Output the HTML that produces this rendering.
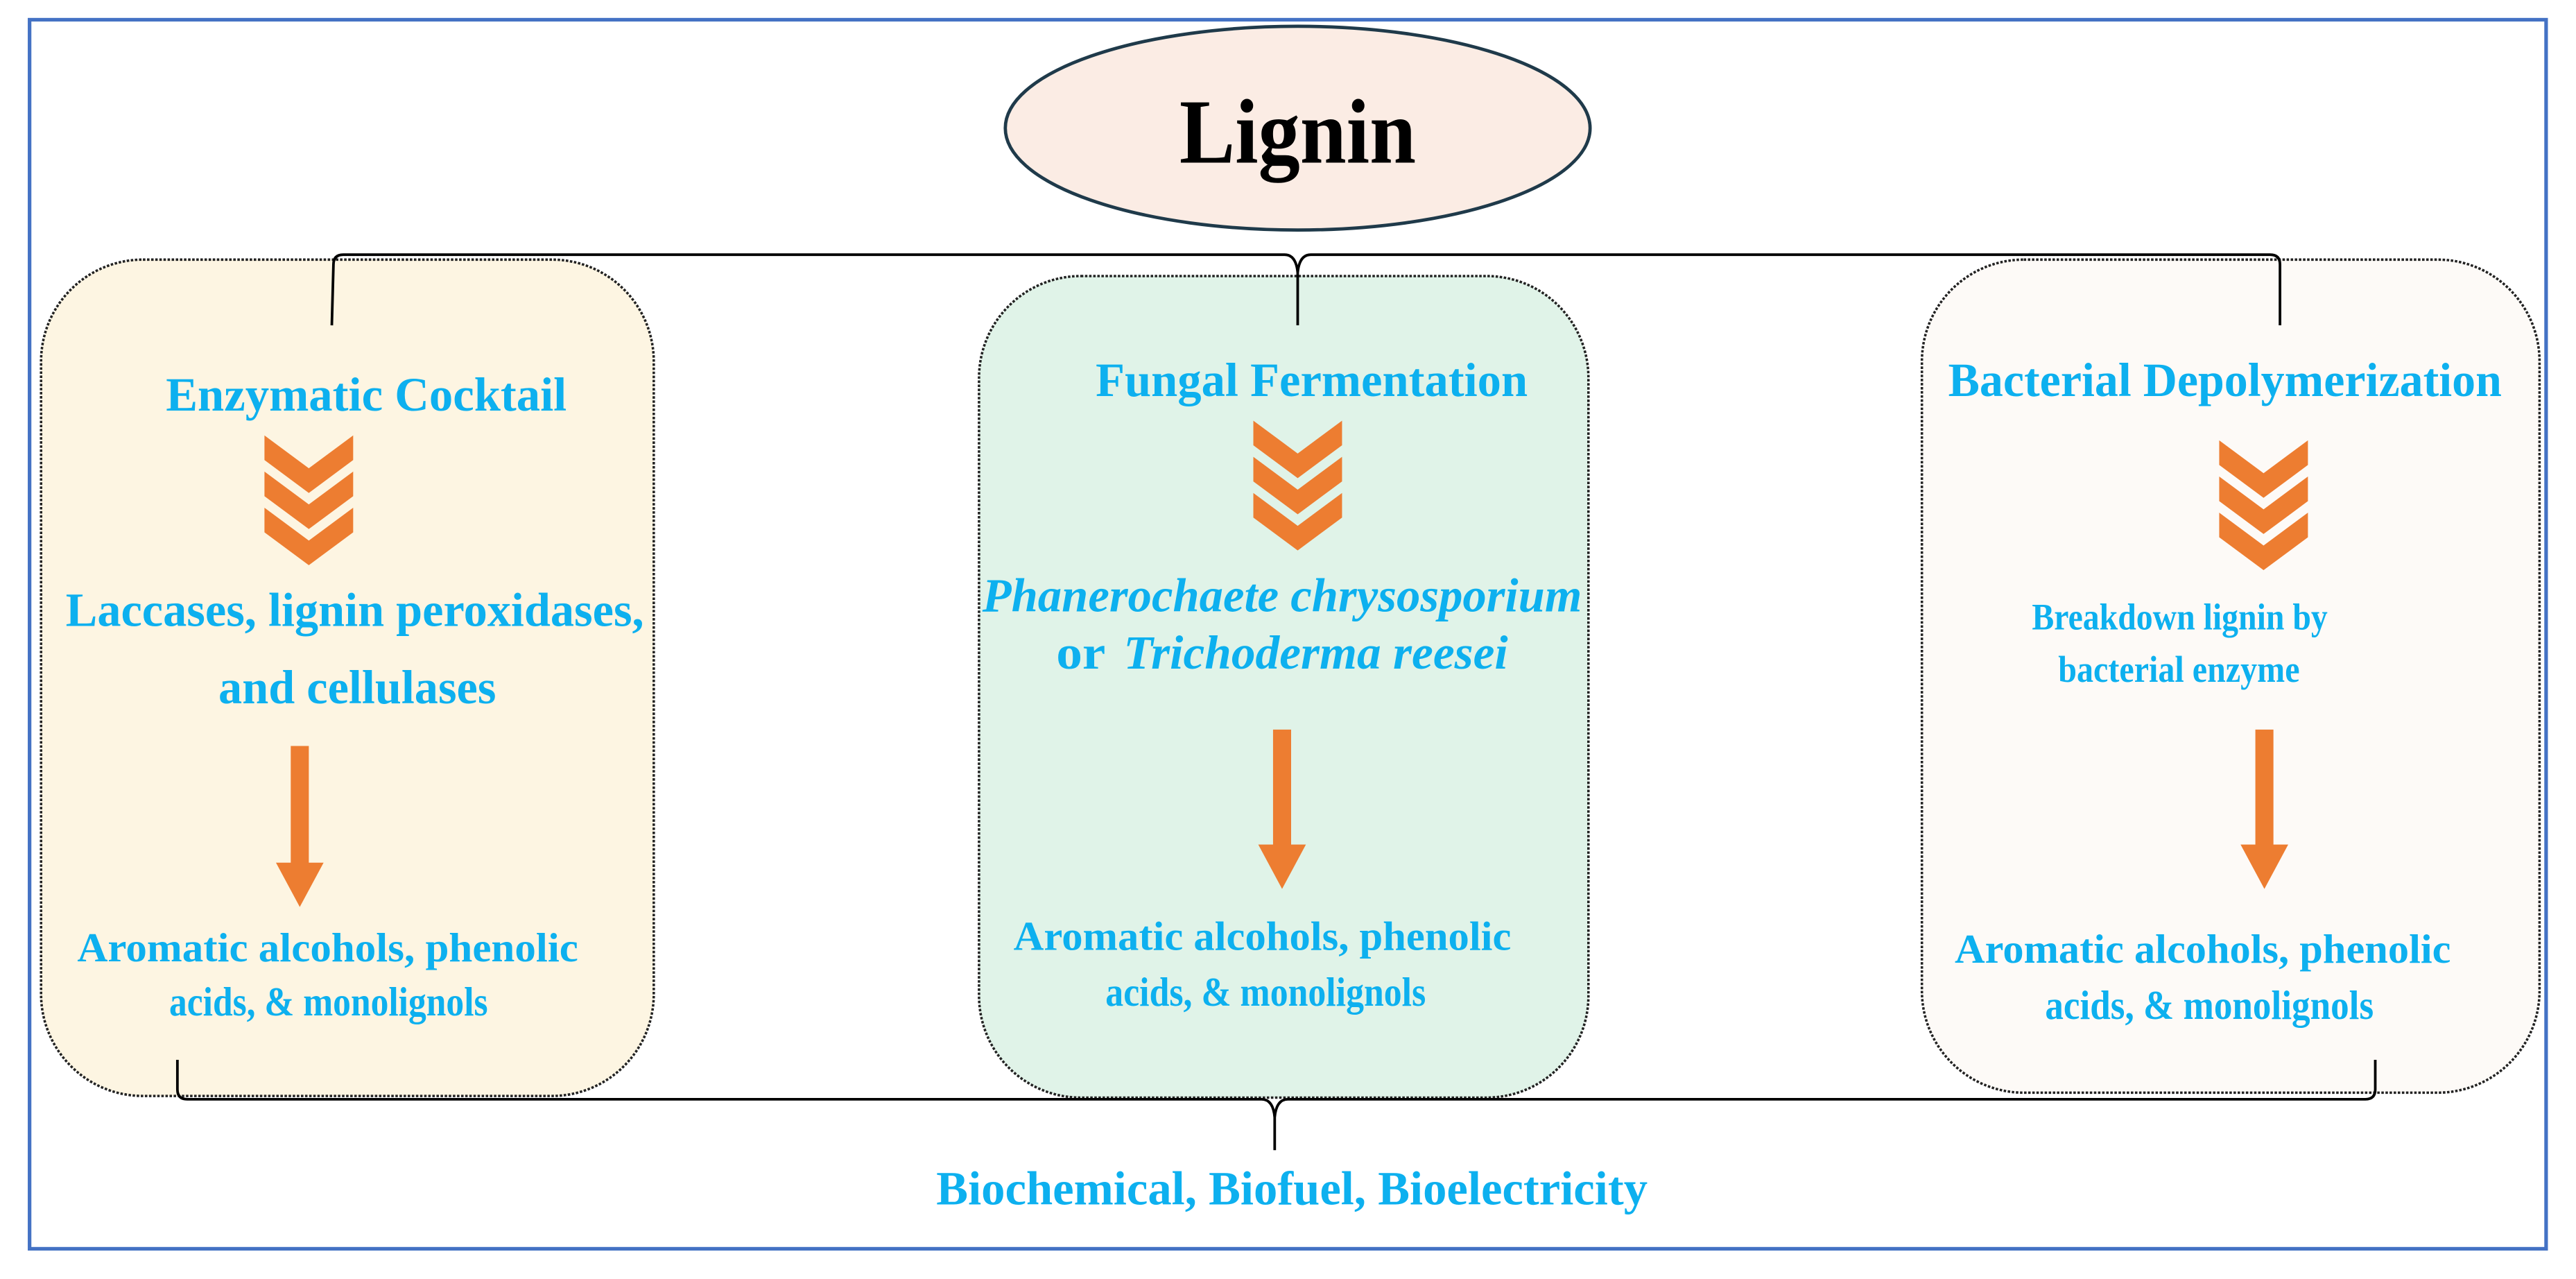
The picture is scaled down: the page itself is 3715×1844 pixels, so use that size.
<!DOCTYPE html>
<html><head><meta charset="utf-8"><style>
html,body{margin:0;padding:0;background:#fff}
svg{display:block}
text{font-family:"Liberation Serif",serif;font-weight:bold}
.c{fill:#0db0ef}
</style></head><body>
<svg width="3715" height="1844" viewBox="0 0 1568.2 778.4" preserveAspectRatio="none" xmlns="http://www.w3.org/2000/svg">
<defs>
<g id="ch" fill="#ed7d31"><polygon points="-27,0 0,20 27,0 27,15 0,35 -27,15"/><polygon points="-27,22 0,42 27,22 27,37 0,57 -27,37"/><polygon points="-27,44 0,64 27,44 27,59 0,79 -27,59"/></g>
</defs>
<rect x="0" y="0" width="1568.2" height="778.4" fill="#fff"/>
<rect x="18" y="12" width="1532" height="748" fill="none" stroke="#4472c4" stroke-width="2.2"/>
<rect x="25" y="158" width="373" height="509" rx="62" fill="#fdf5e2" stroke="#222" stroke-width="1.5" stroke-dasharray="1.5,1"/>
<rect x="596" y="168" width="371" height="500" rx="62" fill="#e0f3e8" stroke="#222" stroke-width="1.5" stroke-dasharray="1.5,1"/>
<rect x="1170" y="158" width="376" height="507" rx="62" fill="#fdfaf7" stroke="#222" stroke-width="1.5" stroke-dasharray="1.5,1"/>
<ellipse cx="790" cy="78" rx="178" ry="62" fill="#fbece4" stroke="#1f3a4a" stroke-width="2"/>
<text x="790" y="99" font-size="56" text-anchor="middle" textLength="144" lengthAdjust="spacingAndGlyphs" fill="#000">Lignin</text>
<path d="M202,198 L203,161 Q203,155 209,155 L782,155 Q789,155 790,166 L790,198 M790,166 Q791,155 798,155 L1382,155 Q1388,155 1388,161 L1388,198" fill="none" stroke="#000" stroke-width="1.6"/>
<path d="M108,645 L108,663 Q108,669 114,669 L768,669 Q775,669 776,680 L776,700 M776,680 Q777,669 784,669 L1440,669 Q1446,669 1446,663 L1446,645" fill="none" stroke="#000" stroke-width="1.6"/>
<use href="#ch" transform="translate(188,265)"/>
<use href="#ch" transform="translate(790,256)"/>
<use href="#ch" transform="translate(1378,268)"/>
<g fill="#ed7d31">
<polygon points="177,454 188,454 188,525 197,525 182.5,552 168,525 177,525"/>
<polygon points="775,444 786,444 786,514 795,514 780.5,541 766,514 775,514"/>
<polygon points="1373,444 1384,444 1384,514 1393,514 1378.5,541 1364,514 1373,514"/>
</g>
<g class="c" font-size="29">
<text x="101" y="250" textLength="244" lengthAdjust="spacingAndGlyphs">Enzymatic Cocktail</text>
<text x="40" y="381" textLength="352" lengthAdjust="spacingAndGlyphs">Laccases, lignin peroxidases,</text>
<text x="133" y="428" textLength="169" lengthAdjust="spacingAndGlyphs">and cellulases</text>
<text x="667" y="241" textLength="263" lengthAdjust="spacingAndGlyphs">Fungal Fermentation</text>
<text x="598" y="372" textLength="365" lengthAdjust="spacingAndGlyphs" font-style="italic">Phanerochaete chrysosporium</text>
<text x="643" y="407" textLength="30" lengthAdjust="spacingAndGlyphs">or</text>
<text x="684" y="407" textLength="234" lengthAdjust="spacingAndGlyphs" font-style="italic">Trichoderma reesei</text>
<text x="1186" y="241" textLength="337" lengthAdjust="spacingAndGlyphs">Bacterial Depolymerization</text>
<text x="570" y="733" textLength="433" lengthAdjust="spacingAndGlyphs">Biochemical, Biofuel, Bioelectricity</text>
</g>
<g class="c" font-size="25">
<text x="47" y="585" textLength="305" lengthAdjust="spacingAndGlyphs">Aromatic alcohols, phenolic</text>
<text x="103" y="618" textLength="194" lengthAdjust="spacingAndGlyphs">acids, &amp; monolignols</text>
<text x="617" y="578" textLength="303" lengthAdjust="spacingAndGlyphs">Aromatic alcohols, phenolic</text>
<text x="673" y="612" textLength="195" lengthAdjust="spacingAndGlyphs">acids, &amp; monolignols</text>
<text x="1190" y="586" textLength="302" lengthAdjust="spacingAndGlyphs">Aromatic alcohols, phenolic</text>
<text x="1245" y="620" textLength="200" lengthAdjust="spacingAndGlyphs">acids, &amp; monolignols</text>
</g>
<g class="c" font-size="23">
<text x="1237" y="383" textLength="180" lengthAdjust="spacingAndGlyphs">Breakdown lignin by</text>
<text x="1253" y="415" textLength="147" lengthAdjust="spacingAndGlyphs">bacterial enzyme</text>
</g>
</svg>
</body></html>
